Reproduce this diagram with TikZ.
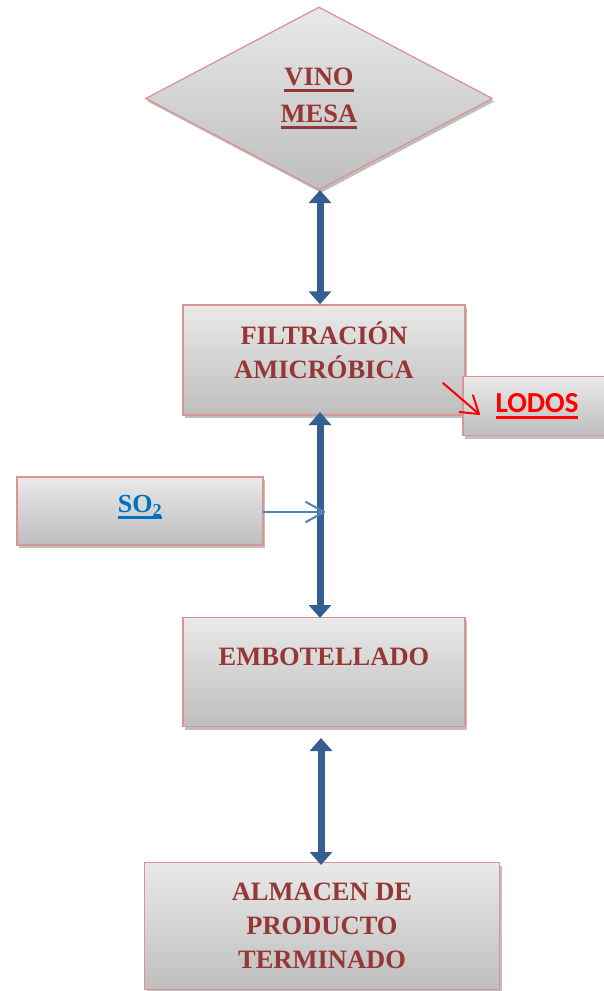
\documentclass[tikz,border=0pt]{standalone}
\usepackage{fontspec}
\setmainfont{Liberation Serif}
\newfontfamily\calib{Carlito}
\usetikzlibrary{arrows.meta,shapes.geometric,shadows}
\definecolor{txtred}{RGB}{149,55,53}
\definecolor{boxborder}{RGB}{217,149,148}
\definecolor{arrblue}{RGB}{54,95,145}
\definecolor{thinblue}{RGB}{79,129,189}
\definecolor{so2blue}{RGB}{0,112,192}
\definecolor{topgray}{RGB}{233,233,233}
\definecolor{botgray}{RGB}{190,190,190}
\newcommand\thickul[1]{\setbox0\hbox{#1}\rlap{\rule[-6pt]{\wd0}{2.6pt}}\box0}
\tikzset{
  procbox/.style={draw=boxborder, line width=1.3pt, rectangle, top color=topgray, bottom color=botgray,
    drop shadow={shadow xshift=2pt, shadow yshift=-3pt, fill=black, opacity=.25}, inner sep=0pt},
  boxtext/.style={text=txtred, font=\fontsize{26.5}{34}\selectfont\bfseries, align=center},
  bigarrow/.style={draw=arrblue, line width=7pt, {Triangle[width=22pt,length=13pt]}-{Triangle[width=22pt,length=13pt]}},
  thinline/.style={line width=2pt, line cap=round, line join=round},
}
\begin{document}
\begin{tikzpicture}[x=1pt,y=-1pt]
\useasboundingbox (0,0) rectangle (603,991);
% diamond
\node[procbox, shape=diamond, minimum width=347pt, minimum height=183pt, aspect=1.9] (vino) at (319,98.5) {};
\node[boxtext, font=\fontsize{26.5}{37}\selectfont\bfseries] (vinot) at (319,98.5) {\thickul{VINO}\\\thickul{MESA}};
% filtracion
\node[procbox, minimum width=282pt, minimum height=110pt] (filt) at (324,360) {};
\node[boxtext] (filtt) at (324,350) {FILTRACIÓN\\AMICRÓBICA};
% lodos
\node[procbox, minimum width=160pt, minimum height=59pt] (lodos) at (543,406) {};
\node[text=red, font=\calib\fontsize{29}{34}\selectfont\bfseries] (lodost) at (537,406) {\thickul{LODOS}};
% so2
\node[procbox, minimum width=246pt, minimum height=68pt] (so2) at (140,511) {};
\node[text=so2blue, font=\fontsize{26}{30}\selectfont\bfseries] (so2t) at (140,507) {\thickul{SO\textsubscript{2}}};
% embotellado
\node[procbox, minimum width=282pt, minimum height=109pt] (emb) at (324,672) {};
\node[boxtext] (embt) at (324,657) {EMBOTELLADO};
% almacen
\node[procbox, minimum width=355pt, minimum height=127pt] (alm) at (322,926) {};
\node[boxtext] (almt) at (322,926) {ALMACEN DE\\PRODUCTO\\TERMINADO};
% arrows
\draw[bigarrow] (320,190) -- (filt.north -| 320,0);
\coordinate (f2a) at (320,412);
\coordinate (f2b) at (320,618);
\draw[bigarrow] (f2a) -- (f2b);
\coordinate (e3a) at (321,738);
\coordinate (e3b) at (321,865);
\draw[bigarrow] (e3a) -- (e3b);
\coordinate (so2end) at (324,512);
\draw[thinblue, thinline] (so2.east |- so2end) -- (so2end);
\draw[thinblue, thinline] (so2end) ++(-18,-10) -- (so2end) -- ++(-18,10);
\coordinate (lodA) at (443,383);
\coordinate (lodB) at (479,414);
\draw[red, thinline] (lodA) -- (lodB);
\draw[red, thinline] (459.5,412.0) -- (lodB) -- (473.0,395.2);
\end{tikzpicture}
\end{document}
